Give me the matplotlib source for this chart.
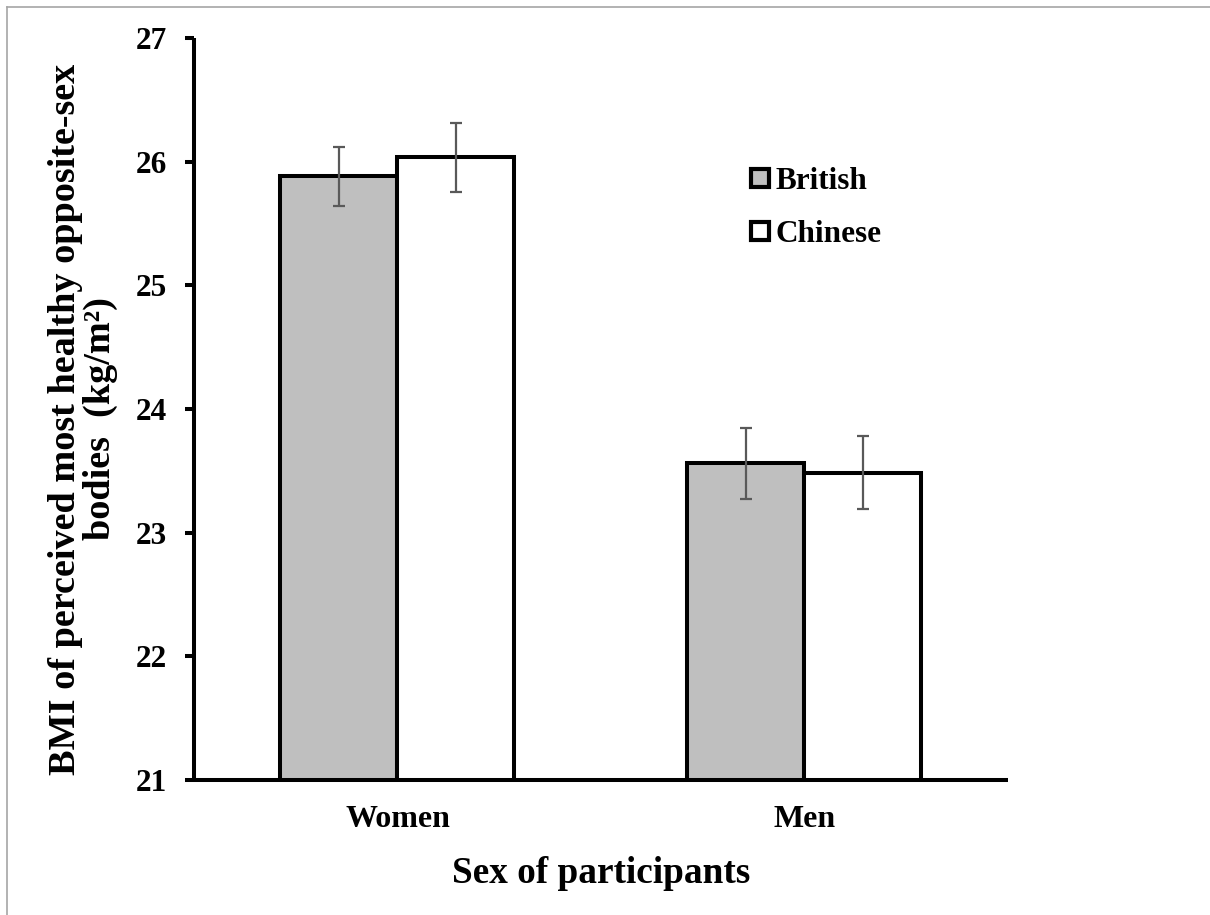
import matplotlib
matplotlib.use("Agg")
import matplotlib.pyplot as plt
from matplotlib.lines import Line2D
import numpy as np

# ── Data ───────────────────────────────────────────────────────────────────
groups = ["Women", "Men"]
series = ["British", "Chinese"]
british_mean = [25.88, 23.56]
british_err = [0.24, 0.29]
chinese_mean = [26.035, 23.485]
chinese_err = [0.28, 0.295]
yticks = [21, 22, 23, 24, 25, 26, 27]

plt.rcParams["font.family"] = ["Liberation Serif", "DejaVu Serif"]
plt.rcParams["font.weight"] = "bold"

fig = plt.figure(figsize=(12.1, 9.15), dpi=100)
ax = fig.add_axes([0.1603, 0.1475, 0.6727, 0.811])

x = np.arange(len(groups))
w = 0.2875
bar_kw = dict(edgecolor="black", linewidth=2.9, zorder=2)
err_kw = dict(ecolor="#595959", elinewidth=1.6, capsize=4.3, capthick=1.6)
ax.bar(x - w/2, british_mean, w, color="#bfbfbf", label=series[0], **bar_kw)
ax.bar(x + w/2, chinese_mean, w, color="white", label=series[1], **bar_kw)
ax.errorbar(x - w/2, british_mean, yerr=british_err, fmt="none", zorder=3, **err_kw)
ax.errorbar(x + w/2, chinese_mean, yerr=chinese_err, fmt="none", zorder=3, **err_kw)

ax.set_xlim(-0.5, 1.5)
ax.set_ylim(yticks[0], yticks[-1])
ax.set_yticks(yticks)
ax.set_yticklabels([str(t) for t in yticks], fontsize=22.5, fontweight="bold")
ax.set_xticks(x)
ax.set_xticklabels(groups, fontsize=23, fontweight="bold")
ax.tick_params(axis="y", direction="out", length=6.5, width=2.9, pad=13)
ax.tick_params(axis="x", length=0, pad=18)

for s in ["top", "right"]:
    ax.spines[s].set_visible(False)
for s in ["left", "bottom"]:
    ax.spines[s].set_linewidth(2.9)
    ax.spines[s].set_capstyle("butt")

ax.set_xlabel("Sex of participants", fontsize=26.8, fontweight="bold", labelpad=16)
ax.set_ylabel("BMI of perceived most healthy opposite-sex\nbodies  (kg/m²)",
              fontsize=27.5, fontweight="bold", linespacing=1.0)
ax.yaxis.set_label_coords(-0.0934, 0.4865)

handles = [Line2D([], [], marker="s", ls="none", markersize=13, markeredgewidth=3,
                  markeredgecolor="black", markerfacecolor=c) for c in ["#bfbfbf", "white"]]
ax.legend(handles, series, loc="upper left", bbox_to_anchor=(0.668, 0.843), frameon=False,
          prop=dict(size=22.5, weight="bold"), handlelength=0.6, handletextpad=0.2,
          labelspacing=0.78, borderaxespad=0)

# thin gray frame on the top and left edge
fig.add_artist(Line2D([7/1210, 1], [1 - 7/915, 1 - 7/915], color="#a6a6a6", lw=1.2))
fig.add_artist(Line2D([7/1210, 7/1210], [0, 1 - 7/915], color="#a6a6a6", lw=1.2))

fig.savefig("out.png", dpi=100)
